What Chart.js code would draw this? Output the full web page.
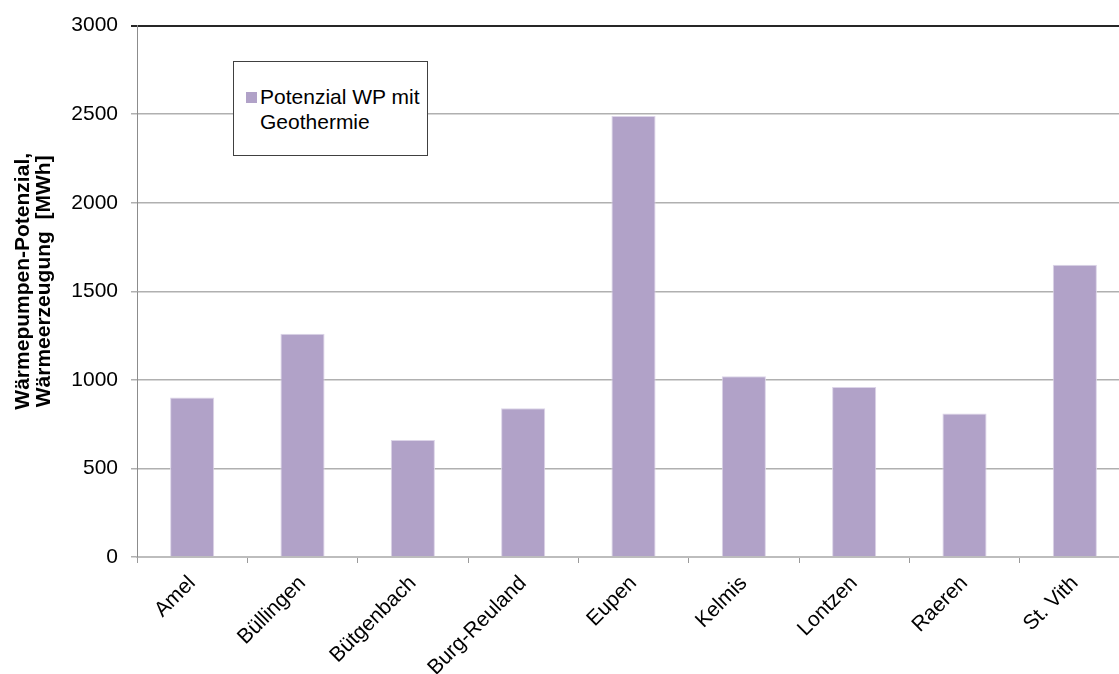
<!DOCTYPE html>
<html>
<head>
<meta charset="utf-8">
<script src="https://cdn.jsdelivr.net/npm/chart.js@4"></script>
<style>
  html, body { margin: 0; padding: 0; background: #fff; overflow: hidden; }
  #wrap { position: relative; width: 1131px; height: 674px; }
  #legend { position: absolute; left: 233px; top: 61px; width: 195px; height: 95px;
    box-sizing: border-box; border: 1px solid #404040; background: #fff; }
  #legend .sw { position: absolute; left: 12px; top: 30px; width: 11px; height: 11px; }
  #legend .txt { position: absolute; left: 26px; top: 22px; font: 21px "Liberation Sans", Arial, sans-serif;
    line-height: 25px; color: #000; }
</style>
</head>
<body>
<div id="wrap">
  <canvas id="chart" width="1131" height="674"></canvas>
  <div id="legend"><div class="sw"></div><div class="txt"></div></div>
</div>
<script>
// Gemeinden (Ostbelgien)
const categories = ["Amel", "Büllingen", "Bütgenbach", "Burg-Reuland", "Eupen", "Kelmis", "Lontzen", "Raeren", "St. Vith"]
// Potenzial WP mit Geothermie [MWh]
const potenzialWP = [900, 1260, 660, 840, 2490, 1020, 960, 810, 1650]
const yTicks = [0, 500, 1000, 1500, 2000, 2500, 3000]
const seriesName = ["Potenzial WP mit", "Geothermie"]
const yTitle = ["Wärmepumpen-Potenzial,", "Wärmeerzeugung  [MWh]"]

const barColor = "#B1A2C8"
const fontFamily = '"Liberation Sans", Arial, sans-serif'

// legend box (Excel style, two lines)
document.querySelector("#legend .sw").style.background = barColor
document.querySelector("#legend .txt").innerHTML = seriesName.join("<br>")

// y axis title, drawn a bit above the plot centre like the original
const yTitlePlugin = {
  id: "yTitle",
  afterDraw(chart) {
    const { ctx, chartArea } = chart
    const cy = (chartArea.top + chartArea.bottom) / 2 - 10
    ctx.save()
    ctx.translate(0, cy)
    ctx.rotate(-Math.PI / 2)
    ctx.font = "bold 21px " + fontFamily
    ctx.fillStyle = "#000"
    ctx.textAlign = "center"
    ctx.textBaseline = "middle"
    yTitle.forEach((line, i) => ctx.fillText(line, 0, 23 + i * 21))
    ctx.restore()
  },
}

new Chart(document.getElementById("chart"), {
  type: "bar",
  data: {
    labels: categories,
    datasets: [
      {
        label: seriesName.join(" "),
        data: potenzialWP,
        backgroundColor: barColor,
        borderColor: "#DCD4E8",
        borderWidth: 1,
        categoryPercentage: 0.8,
        barPercentage: 0.5,
      },
    ],
  },
  options: {
    responsive: false,
    animation: false,
    layout: { padding: { top: 23, right: 1, left: 0, bottom: 0 } },
    plugins: {
      legend: { display: false },
      tooltip: { enabled: false },
    },
    scales: {
      x: {
        offset: true,
        grid: {
          offset: true,
          drawOnChartArea: false,
          drawTicks: true,
          tickLength: 6,
          color: "#9A9A9A",
        },
        border: { color: "#BDBDBD", width: 2 },
        ticks: {
          color: "#000",
          font: { family: fontFamily, size: 21 },
          minRotation: 45,
          maxRotation: 45,
          padding: 8,
        },
        afterFit: (scale) => {
          scale.height = 117
        },
      },
      y: {
        min: 0,
        max: 3000,
        afterBuildTicks: (scale) => {
          scale.ticks = yTicks.map((v) => ({ value: v }))
        },
        grid: {
          color: (ctx) => (ctx.tick && ctx.tick.value === 3000 ? "#262626" : "#B0B0B0"),
          lineWidth: (ctx) => (ctx.tick && ctx.tick.value === 3000 ? 2 : 1.5),
          tickLength: 6,
        },
        border: { color: "#8C8C8C", width: 1 },
        ticks: {
          color: "#000",
          font: { family: fontFamily, size: 21 },
          padding: 13,
          callback: (v) => String(v),
        },
        afterFit: (scale) => {
          scale.width = 137
        },
      },
    },
  },
  plugins: [yTitlePlugin],
})
</script>
</body>
</html>
